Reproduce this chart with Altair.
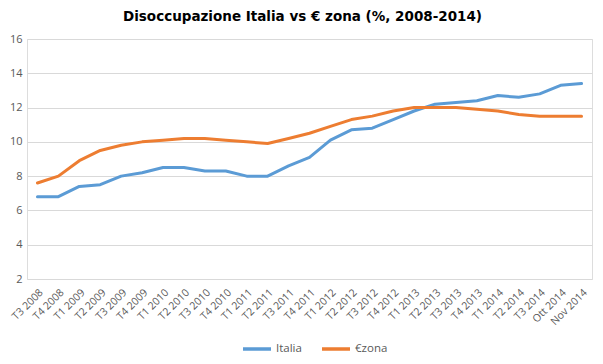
import altair as alt
import pandas as pd

categories = ["T3 2008", "T4 2008", "T1 2009", "T2 2009", "T3 2009", "T4 2009",
              "T1 2010", "T2 2010", "T3 2010", "T4 2010", "T1 2011", "T2 2011",
              "T3 2011", "T4 2011", "T1 2012", "T2 2012", "T3 2012", "T4 2012",
              "T1 2013", "T2 2013", "T3 2013", "T4 2013", "T1 2014", "T2 2014",
              "T3 2014", "Ott 2014", "Nov 2014"]
italia = [6.8, 6.8, 7.4, 7.5, 8.0, 8.2, 8.5, 8.5, 8.3, 8.3, 8.0, 8.0,
          8.6, 9.1, 10.1, 10.7, 10.8, 11.3, 11.8, 12.2, 12.3, 12.4, 12.7, 12.6,
          12.8, 13.3, 13.4]
ezona = [7.6, 8.0, 8.9, 9.5, 9.8, 10.0, 10.1, 10.2, 10.2, 10.1, 10.0, 9.9,
         10.2, 10.5, 10.9, 11.3, 11.5, 11.8, 12.0, 12.0, 12.0, 11.9, 11.8, 11.6,
         11.5, 11.5, 11.5]
series_names = ["Italia", "€zona"]
colors = ["#5B9BD5", "#ED7D31"]
y_ticks = [2, 4, 6, 8, 10, 12, 14, 16]

rows = []
for name, vals in zip(series_names, [italia, ezona]):
    for i, (c, v) in enumerate(zip(categories, vals)):
        rows.append({"periodo": c, "valore": v, "serie": name, "ord": i})
df = pd.DataFrame(rows)

chart = alt.Chart(df).mark_line(strokeWidth=3, strokeCap="round", strokeJoin="round").encode(
    x=alt.X("periodo:N", sort=categories,
            scale=alt.Scale(paddingInner=0, paddingOuter=0, align=0.5),
            axis=alt.Axis(title=None, labelAngle=-45, labelAlign="right", labelBaseline="top",
                          labelPadding=8, ticks=False, domain=False, grid=False,
                          labelFontSize=10.5, labelColor="#595959", labelFont="Open Sans")),
    y=alt.Y("valore:Q", scale=alt.Scale(domain=[2, 16], nice=False, zero=False),
            axis=alt.Axis(title=None, values=y_ticks, ticks=False, domain=False,
                          gridColor="#D9D9D9", gridWidth=1, labelPadding=5,
                          labelFontSize=11, labelColor="#595959", labelFont="Open Sans")),
    color=alt.Color("serie:N", scale=alt.Scale(domain=series_names, range=colors),
                    legend=alt.Legend(title=None, orient="none", direction="horizontal",
                                      legendX=214, legendY=294, symbolType="stroke",
                                      symbolSize=784, symbolStrokeWidth=3.5,
                                      labelFontSize=11.5, labelColor="#595959",
                                      labelFont="Open Sans", labelOffset=3,
                                      columnPadding=13, padding=0)),
    order="ord:Q",
).properties(
    width=565, height=240,
    title=alt.TitleParams("Disoccupazione Italia vs € zona (%, 2008-2014)",
                          anchor="middle", dx=-7, offset=10, fontSize=13.5,
                          font="DejaVu Sans", fontWeight="bold", color="#000000"),
    autosize=alt.AutoSizeParams(type="none"),
    padding={"left": 19, "top": 31, "right": 3, "bottom": 77},
).configure_view(stroke=None).configure(background="white")

chart.save("out.html", embed_options={"renderer": "svg", "actions": False})
